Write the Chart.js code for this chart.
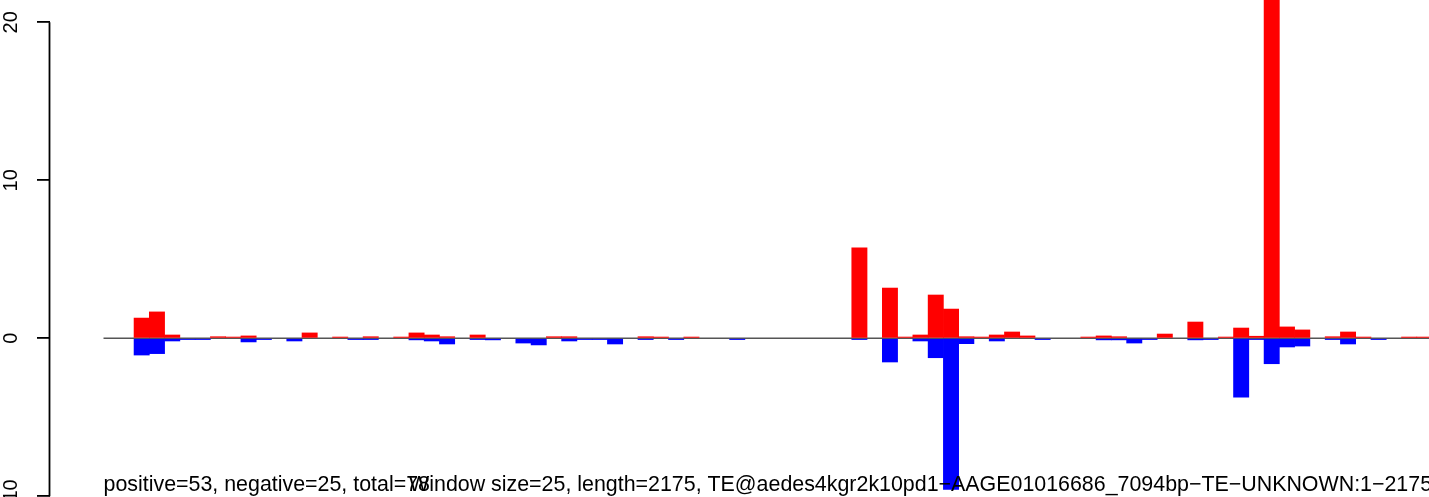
<!DOCTYPE html>
<html><head><meta charset="utf-8">
<script src="https://cdn.jsdelivr.net/npm/chart.js@4.4.1/dist/chart.umd.min.js"></script>
<style>html,body{margin:0;padding:0;background:#fff;overflow:hidden}</style>
</head><body>
<canvas id="c" width="1429" height="497"></canvas>
<script>
const windowSize = 25;
const seqLength = 2175;
const binCount = seqLength / windowSize; // 87 windows

const positive = [
  null, null, 1.28, 1.67, 0.21, null, null, 0.10, 0.08, 0.15,
  null, null, null, 0.34, null, 0.08, null, 0.10, null, 0.08,
  0.34, 0.21, 0.10, null, 0.21, null, null, null, null, 0.10,
  0.10, null, null, null, null, 0.10, 0.08, null, 0.08, null,
  null, null, null, null, null, null, null, null, null, 5.72,
  null, 3.18, 0.08, 0.21, 2.74, 1.85, 0.10, 0.08, 0.21, 0.40,
  0.15, null, null, null, 0.08, 0.15, 0.10, null, null, 0.27,
  null, 1.03, null, 0.08, 0.65, 0.13, 28, 0.72, 0.53, null,
  0.10, 0.40, 0.08, null, null, 0.08, 0.08
];
const negative = [
  null, null, -1.06, -0.97, -0.17, -0.08, -0.08, null, null, -0.23,
  -0.08, null, -0.17, null, null, null, -0.08, -0.08, null, null,
  -0.10, -0.17, -0.36, null, -0.08, -0.10, null, -0.30, -0.42, null,
  -0.17, -0.08, -0.08, -0.36, null, -0.08, null, -0.08, null, null,
  null, -0.08, null, null, null, null, null, null, null, -0.08,
  null, -1.50, null, -0.17, -1.23, -9.56, -0.34, null, -0.17, null,
  null, -0.08, null, null, null, -0.10, -0.10, -0.30, -0.08, null,
  null, -0.10, -0.08, null, -3.72, -0.08, -1.61, -0.55, -0.49, null,
  -0.08, -0.36, null, -0.08, null, null, null
];
const yTickValues = [-10, 0, 10, 20];
const yTickLabels = ["\u221210", "0", "10", "20"];
const leftNote = "positive=53, negative=25, total=78";
const rightNote = "Window size=25, length=2175, TE@aedes4kgr2k10pd1\u2212AAGE01016686_7094bp\u2212TE\u2212UNKNOWN:1\u22122175";

const toPoints = arr => arr.map((v, i) => ({x: i + 0.5, y: v}));

const axisAndNotes = {
  id: 'axisAndNotes',
  afterDraw(chart) {
    const ctx = chart.ctx, ys = chart.scales.y, xs = chart.scales.x;
    ctx.save();
    ctx.strokeStyle = '#000';
    ctx.lineWidth = 1.8;
    ctx.beginPath();
    ctx.moveTo(ys.right - 0.5, ys.getPixelForValue(yTickValues[yTickValues.length - 1]));
    ctx.lineTo(ys.right - 0.5, ys.getPixelForValue(yTickValues[0]));
    ctx.stroke();
    ctx.fillStyle = '#000';
    ctx.font = '21.4px "Liberation Sans", Arial, sans-serif';
    ctx.textBaseline = 'alphabetic';
    ctx.textAlign = 'left';
    ctx.fillText(leftNote, xs.getPixelForValue(0), 491);
    ctx.textAlign = 'right';
    ctx.fillText(rightNote, xs.getPixelForValue(binCount), 491);
    ctx.restore();
  }
};

new Chart(document.getElementById('c'), {
  type: 'bar',
  data: {
    datasets: [
      {type: 'line', data: [{x: 0, y: 0}, {x: binCount, y: 0}], borderColor: '#555555', borderWidth: 1.4,
       pointRadius: 0, order: 10, clip: false},
      {data: toPoints(positive), backgroundColor: '#FF0000', borderWidth: 0, grouped: false,
       barPercentage: 1, categoryPercentage: 1, order: 2},
      {data: toPoints(negative), backgroundColor: '#0000FF', borderWidth: 0, grouped: false,
       barPercentage: 1, categoryPercentage: 1, order: 1}
    ]
  },
  options: {
    responsive: false,
    animation: false,
    layout: {padding: 0},
    plugins: {legend: {display: false}, tooltip: {enabled: false}},
    scales: {
      x: {type: 'linear', display: false, offset: false, min: -3.504, max: 86.80,
          grid: {offset: false},
          afterBuildTicks: s => { s.ticks = Array.from({length: binCount + 1}, (_, i) => ({value: i})); }},
      y: {
        type: 'linear', position: 'left', min: -10.044, max: 21.41,
        afterBuildTicks: s => { s.ticks = yTickValues.map(v => ({value: v})); },
        afterFit: s => { s.width = 50; s.paddingTop = 0; s.paddingBottom = 0; },
        border: {display: false},
        grid: {drawOnChartArea: false, drawTicks: true, tickLength: 13, color: '#000', lineWidth: 1.8},
        ticks: {
          minRotation: 90, maxRotation: 90, crossAlign: 'center', padding: 9,
          color: '#000', font: {family: '"Liberation Sans", Arial, sans-serif', size: 20},
          callback: (v) => yTickLabels[yTickValues.indexOf(v)]
        }
      }
    }
  },
  plugins: [axisAndNotes]
});
</script>
</body></html>
